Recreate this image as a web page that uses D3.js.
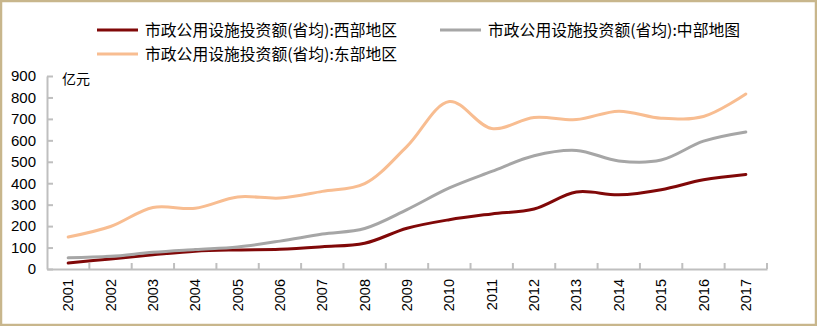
<!DOCTYPE html>
<html>
<head>
<meta charset="utf-8">
<script src="https://cdn.jsdelivr.net/npm/d3@7"></script>
<style>
  body { margin: 0; background: #fff; }
  svg text { font-family: "Liberation Sans", Arial, sans-serif; fill: #000; }
  .cjk { font-family: "Noto Sans CJK SC", "Liberation Sans", sans-serif; }
</style>
</head>
<body>
<div id="chart"></div>
<script>
// data
const years = ["2001","2002","2003","2004","2005","2006","2007","2008","2009",
               "2010","2011","2012","2013","2014","2015","2016","2017"];
const west    = [28, 47, 66, 83, 89, 92, 104, 120, 190, 230, 257, 280, 359, 346, 370, 416, 441];
const central = [52, 59, 78, 91, 103, 130, 163, 189, 277, 378, 455, 528, 553, 504, 508, 596, 639];
const east    = [149, 198, 287, 283, 336, 331, 362, 398, 572, 781, 655, 707, 697, 736, 703, 711, 816];
const yTicks = [0, 100, 200, 300, 400, 500, 600, 700, 800, 900];

const seriesNames = [
    "市政公用设施投资额(省均):西部地区",
    "市政公用设施投资额(省均):中部地图",
    "市政公用设施投资额(省均):东部地区"
];
const colors = ["#800808", "#a6a6a6", "#f8bd91"];

const W = 817, H = 326;
const margin = { top: 76, right: 50, bottom: 57, left: 47 };
const width = W - margin.left - margin.right;
const height = H - margin.top - margin.bottom;

const root = d3.select("#chart").append("svg")
    .attr("width", W)
    .attr("height", H);

// frame
root.append("rect")
    .attr("x", 1).attr("y", 1)
    .attr("width", W - 2).attr("height", H - 2)
    .attr("fill", "#fff")
    .attr("stroke", "#c8b68c")
    .attr("stroke-width", 2.5);

const svg = root.append("g")
    .attr("transform", `translate(${margin.left},${margin.top})`);

// scales
const x = d3.scaleBand().domain(years).range([0, width]);
const y = d3.scaleLinear().domain([0, 900]).range([height, 0]);

// axes
const axisColor = "#bfbfbf";

const yAxis = svg.append("g")
    .call(d3.axisLeft(y).tickValues(yTicks).tickSize(-6).tickPadding(11).tickSizeOuter(0));
yAxis.select(".domain").attr("stroke", axisColor).attr("stroke-width", 2);
yAxis.selectAll(".tick line").attr("stroke", axisColor).attr("stroke-width", 2);
yAxis.selectAll(".tick text")
    .style("font-size", "15px")
    .attr("font-family", null);

const xAxis = svg.append("g")
    .attr("transform", `translate(0,${height})`)
    .call(d3.axisBottom(x).tickSize(0).tickSizeOuter(0));
xAxis.select(".domain").attr("stroke", axisColor).attr("stroke-width", 2);
xAxis.selectAll(".tick line").remove();
xAxis.selectAll(".tick text")
    .style("font-size", "14.5px")
    .attr("font-family", null)
    .attr("transform", "rotate(-90)")
    .attr("text-anchor", "end")
    .attr("x", -10)
    .attr("y", 0)
    .attr("dy", "0.35em");

// category boundary ticks pointing inward
const bounds = years.map(d => x(d)).concat([width]).slice(1);
svg.append("g").selectAll("line")
    .data(bounds)
    .join("line")
    .attr("x1", d => d).attr("x2", d => d)
    .attr("y1", height).attr("y2", height - 6)
    .attr("stroke", axisColor)
    .attr("stroke-width", 2);

// unit label
svg.append("text")
    .attr("class", "cjk")
    .attr("x", 15)
    .attr("y", 8)
    .style("font-size", "14px")
    .text("亿元");

// lines
const line = d3.line()
    .x((d, i) => x(years[i]) + x.bandwidth() / 2)
    .y(d => y(d))
    .curve(d3.curveCatmullRom.alpha(0.5));

[west, central, east].forEach((s, i) => {
    svg.append("path")
        .datum(s)
        .attr("fill", "none")
        .attr("stroke", colors[i])
        .attr("stroke-width", 3)
        .attr("stroke-linecap", "round")
        .attr("d", line);
});

// legend
const legendPos = [[97, 30], [440, 30], [97, 54]];
legendPos.forEach((p, i) => {
    const g = root.append("g").attr("transform", `translate(${p[0]},${p[1]})`);
    g.append("line")
        .attr("x1", 0).attr("x2", 41)
        .attr("stroke", colors[i])
        .attr("stroke-width", 3);
    g.append("text")
        .attr("class", "cjk")
        .attr("x", 48)
        .attr("dy", "0.35em")
        .style("font-size", "15.8px")
        .text(seriesNames[i]);
});
</script>
</body>
</html>
